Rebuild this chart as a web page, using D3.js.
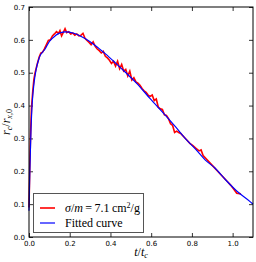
<html>
<head>
  <script src="https://d3js.org/d3.v7.min.js"></script>
  <style>
  body{ margin:0; background:#fff; }
  svg{ display:block; }
  .tick text{ font-family:"DejaVu Sans"; font-size:7px; fill:#000; }
  .domain{ display:none; }
  </style>
</head>
<body>
  <script type="text/javascript">
    // simulation data (red)
    var simT = [0.000,0.004,0.008,0.012,0.018,0.024,0.030,0.040,0.050,0.058,0.066,0.075,0.085,0.095,0.105,0.115,0.125,0.135,0.145,0.152,0.160,0.168,0.177,0.185,0.195,0.205,0.215,0.225,0.235,0.245,0.255,0.265,0.275,0.285,0.295,0.305,0.315,0.325,0.335,0.345,0.355,0.365,0.375,0.385,0.395,0.405,0.415,0.425,0.435,0.445,0.455,0.465,0.475,0.485,0.495,0.505,0.515,0.525,0.535,0.545,0.555,0.565,0.575,0.585,0.595,0.605,0.615,0.625,0.635,0.645,0.655,0.665,0.675,0.685,0.695,0.705,0.715,0.725,0.735,0.745,0.760,0.775,0.790,0.805,0.820,0.835,0.845,0.855,0.870,0.885,0.900,0.915,0.930,0.945,0.960,0.975,0.990,1.005,1.020,1.035,1.040];
    var simR = [0.09,0.22,0.32,0.39,0.44,0.48,0.50,0.525,0.548,0.56,0.562,0.572,0.585,0.598,0.60,0.612,0.618,0.625,0.62,0.628,0.612,0.622,0.634,0.622,0.625,0.618,0.621,0.614,0.618,0.612,0.614,0.62,0.605,0.598,0.592,0.585,0.594,0.58,0.572,0.567,0.56,0.565,0.55,0.545,0.538,0.528,0.535,0.52,0.535,0.512,0.525,0.505,0.51,0.49,0.505,0.478,0.485,0.472,0.468,0.462,0.452,0.445,0.44,0.432,0.428,0.432,0.415,0.42,0.395,0.39,0.388,0.372,0.37,0.36,0.345,0.34,0.318,0.322,0.318,0.315,0.305,0.295,0.285,0.278,0.270,0.262,0.265,0.248,0.238,0.228,0.218,0.208,0.198,0.188,0.178,0.168,0.158,0.146,0.133,0.132,0.13];

    // fitted curve (blue)
    var fitT = [0.000,0.004,0.010,0.015,0.025,0.035,0.050,0.079,0.100,0.130,0.177,0.220,0.275,0.325,0.374,0.424,0.472,0.530,0.595,0.669,0.720,0.767,0.820,0.866,0.913,0.964,1.020,1.087,1.100];
    var fitR = [0.08,0.20,0.33,0.40,0.47,0.51,0.545,0.572,0.595,0.613,0.624,0.620,0.604,0.583,0.558,0.530,0.502,0.467,0.421,0.371,0.335,0.300,0.266,0.234,0.210,0.175,0.140,0.107,0.100];

    var xTicks = [0.0,0.2,0.4,0.6,0.8,1.0];
    var yTicks = [0.0,0.1,0.2,0.3,0.4,0.5,0.6,0.7];

    var width = 256, height = 262;
    var pL = 29, pR = 253, pT = 7, pB = 237;

    var svg = d3.select("body").append("svg")
                .attr("width", width)
                .attr("height", height);

    var xScale = d3.scaleLinear().domain([0, 1.1]).range([pL, pR]);
    var yScale = d3.scaleLinear().domain([0, 0.7]).range([pB, pT]);

    var fmt = d3.format(".1f");

    // axes, ticks pointing inward
    svg.append("g").attr("transform", "translate(0," + pB + ")")
       .call(d3.axisBottom(xScale).tickValues(xTicks).tickFormat(fmt).tickSizeInner(-4).tickSizeOuter(0).tickPadding(4));
    svg.append("g").attr("transform", "translate(0," + pT + ")")
       .call(d3.axisTop(xScale).tickValues(xTicks).tickFormat("").tickSizeInner(-4).tickSizeOuter(0));
    svg.append("g").attr("transform", "translate(" + pL + ",0)")
       .call(d3.axisLeft(yScale).tickValues(yTicks).tickFormat(fmt).tickSizeInner(-4).tickSizeOuter(0).tickPadding(4));
    svg.append("g").attr("transform", "translate(" + pR + ",0)")
       .call(d3.axisRight(yScale).tickValues(yTicks).tickFormat("").tickSizeInner(-4).tickSizeOuter(0));
    svg.selectAll(".tick line").attr("stroke", "#000").attr("stroke-width", 0.8);

    var line = d3.line()
        .x(function(d){ return xScale(d[0]); })
        .y(function(d){ return yScale(d[1]); });

    var simData = simT.map(function(t, i){ return [t, simR[i]]; });
    var fitData = fitT.map(function(t, i){ return [t, fitR[i]]; });

    svg.append("path").datum(simData)
       .attr("d", line).attr("fill", "none")
       .attr("stroke", "#ff0000").attr("stroke-width", 1.6);
    svg.append("path").datum(fitData)
       .attr("d", d3.line().curve(d3.curveMonotoneX).x(function(d){ return xScale(d[0]); }).y(function(d){ return yScale(d[1]); }))
       .attr("fill", "none")
       .attr("stroke", "#0000ff").attr("stroke-width", 1.2);

    // frame
    svg.append("rect")
       .attr("x", pL).attr("y", pT)
       .attr("width", pR - pL).attr("height", pB - pT)
       .attr("fill", "none").attr("stroke", "#000").attr("stroke-width", 1);

    // legend
    var lg = svg.append("g");
    lg.append("rect").attr("x", 33.5).attr("y", 193.5).attr("width", 110).attr("height", 39)
      .attr("fill", "#fff").attr("stroke", "#555").attr("stroke-width", 1);
    lg.append("line").attr("x1", 40).attr("x2", 55).attr("y1", 208).attr("y2", 208)
      .attr("stroke", "#ff0000").attr("stroke-width", 1.6);
    lg.append("line").attr("x1", 40).attr("x2", 55).attr("y1", 223).attr("y2", 223)
      .attr("stroke", "#0000ff").attr("stroke-width", 1.2);
    var t1 = lg.append("text").attr("x", 65).attr("y", 212)
      .style("font-family", "Liberation Serif").style("font-size", "12px");
    t1.append("tspan").style("font-style", "italic").text("σ");
    t1.append("tspan").text("/");
    t1.append("tspan").style("font-style", "italic").text("m");
    t1.append("tspan").text("\u2009=\u20097.1\u2009cm");
    t1.append("tspan").attr("dy", -4).style("font-size", "8px").text("2");
    t1.append("tspan").attr("dy", 4).text("/g");
    lg.append("text").attr("x", 65).attr("y", 227)
      .style("font-family", "Liberation Serif").style("font-size", "12px")
      .text("Fitted curve");

    // axis labels
    var xl = svg.append("text").attr("x", 141).attr("y", 256).attr("text-anchor", "middle")
      .style("font-family", "Liberation Serif").style("font-size", "12px");
    xl.append("tspan").style("font-style", "italic").text("t");
    xl.append("tspan").text("/");
    xl.append("tspan").style("font-style", "italic").text("t");
    xl.append("tspan").attr("dy", 2).style("font-size", "8px").style("font-style", "italic").text("c");

    var yl = svg.append("text").attr("transform", "translate(10,122) rotate(-90)")
      .attr("text-anchor", "middle")
      .style("font-family", "Liberation Serif").style("font-size", "12px");
    yl.append("tspan").style("font-style", "italic").text("r");
    yl.append("tspan").attr("dy", 2).style("font-size", "8px").style("font-style", "italic").text("c");
    yl.append("tspan").attr("dy", -2).text("/");
    yl.append("tspan").style("font-style", "italic").text("r");
    yl.append("tspan").attr("dy", 2).style("font-size", "8px").style("font-style", "italic").text("x");
    yl.append("tspan").style("font-size", "8px").text(",0");
  </script>
</body>
</html>
